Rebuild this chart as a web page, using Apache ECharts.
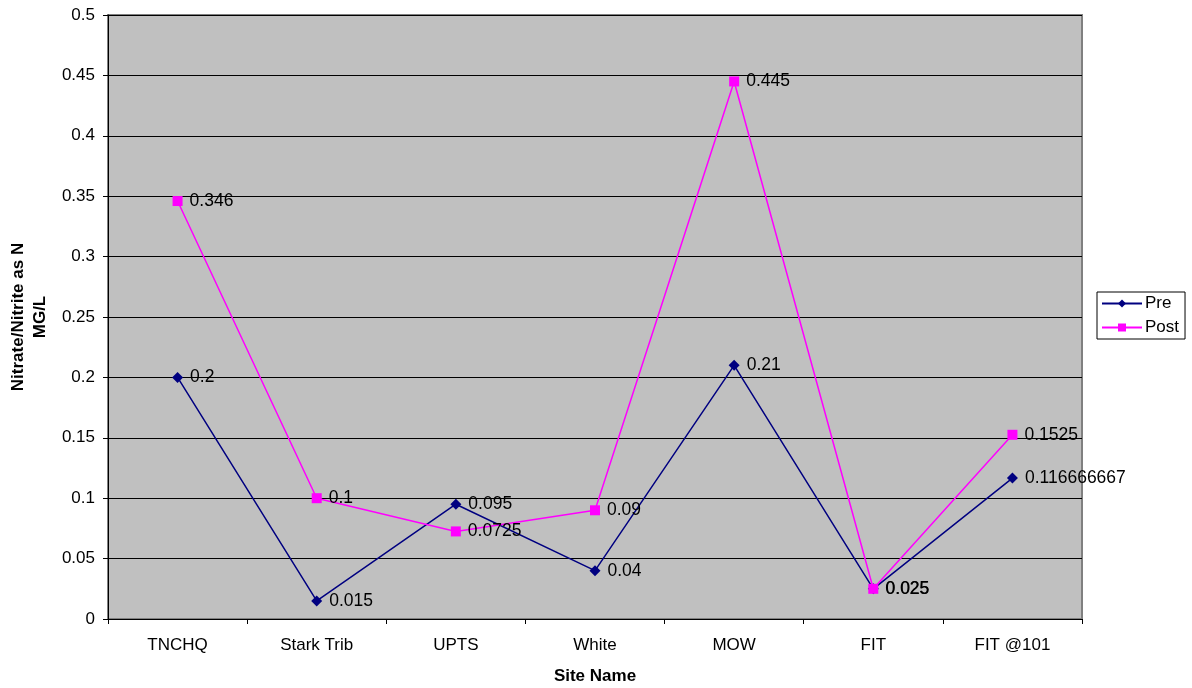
<!DOCTYPE html>
<html>
<head>
<meta charset="utf-8">
<title>Nitrate/Nitrite as N</title>
<script src="https://cdn.jsdelivr.net/npm/echarts@6/dist/echarts.min.js"></script>
<style>
  html, body { margin: 0; padding: 0; background: #ffffff; }
  #chart { width: 1192px; height: 688px; }
</style>
</head>
<body>
<div id="chart"></div>
<script>
// Sampling sites along the x axis
const sites = ['TNCHQ', 'Stark Trib', 'UPTS', 'White', 'MOW', 'FIT', 'FIT @101'];

// Nitrate/Nitrite as N (MG/L) before and after
const preValues = [0.2, 0.015, 0.095, 0.04, 0.21, 0.025, 0.116666667];
const postValues = [0.346, 0.1, 0.0725, 0.09, 0.445, 0.025, 0.1525];

const FONT = 'Liberation Sans, Arial, sans-serif';

const chart = echarts.init(document.getElementById('chart'), null, { renderer: 'canvas' });

function labelStyle() {
  return {
    show: true,
    position: 'right',
    distance: 7,
    color: '#000',
    fontFamily: FONT,
    fontSize: 17.5,
    formatter: p => String(p.value)
  };
}

chart.setOption({
  animation: false,
  backgroundColor: '#ffffff',
  grid: {
    left: 108,
    top: 15,
    right: 110,
    bottom: 69,
    outerBoundsMode: 'none',
    containLabel: false,
    show: true,
    backgroundColor: '#C0C0C0',
    borderColor: '#808080',
    borderWidth: 2
  },
  legend: {
    orient: 'vertical',
    left: 1097,
    top: 292,
    itemWidth: 40,
    itemHeight: 10,
    itemGap: 7,
    padding: [3, 6, 3, 4],
    borderColor: '#000',
    borderWidth: 1,
    backgroundColor: '#fff',
    textStyle: { fontFamily: FONT, fontSize: 17, color: '#000', padding: [0, 0, 0, -2] },
    data: ['Pre', 'Post']
  },
  xAxis: {
    type: 'category',
    data: sites,
    boundaryGap: true,
    name: 'Site Name',
    nameLocation: 'middle',
    nameGap: 49,
    nameTextStyle: { fontFamily: FONT, fontSize: 17, fontWeight: 'bold', color: '#000' },
    axisLine: { show: true, lineStyle: { color: '#000', width: 1 } },
    axisTick: { show: true, length: 5, lineStyle: { color: '#000' } },
    axisLabel: { fontFamily: FONT, fontSize: 17, color: '#000', margin: 18 },
    splitLine: { show: false }
  },
  yAxis: {
    type: 'value',
    min: 0,
    max: 0.5,
    interval: 0.05,
    name: 'Nitrate/Nitrite as N\nMG/L',
    nameLocation: 'middle',
    nameRotate: 90,
    nameGap: 57,
    nameTextStyle: { fontFamily: FONT, fontSize: 17, fontWeight: 'bold', color: '#000', lineHeight: 22, align: 'center' },
    axisLine: { show: true, lineStyle: { color: '#000', width: 1 } },
    axisTick: { show: true, length: 5, lineStyle: { color: '#000' } },
    axisLabel: {
      fontFamily: FONT, fontSize: 17, color: '#000', margin: 13,
      formatter: v => String(Math.round(v * 1000) / 1000)
    },
    splitLine: { show: true, lineStyle: { color: '#000', width: 1 } }
  },
  series: [
    {
      name: 'Pre',
      type: 'line',
      data: preValues,
      symbol: 'diamond',
      symbolSize: 11,
      color: '#000080',
      lineStyle: { color: '#000080', width: 1.5 },
      itemStyle: { color: '#000080' },
      label: labelStyle(),
      z: 3
    },
    {
      name: 'Post',
      type: 'line',
      data: postValues,
      symbol: 'rect',
      symbolSize: 10,
      color: '#FF00FF',
      lineStyle: { color: '#FF00FF', width: 1.5 },
      itemStyle: { color: '#FF00FF' },
      label: labelStyle(),
      z: 4
    }
  ]
});
</script>
</body>
</html>
